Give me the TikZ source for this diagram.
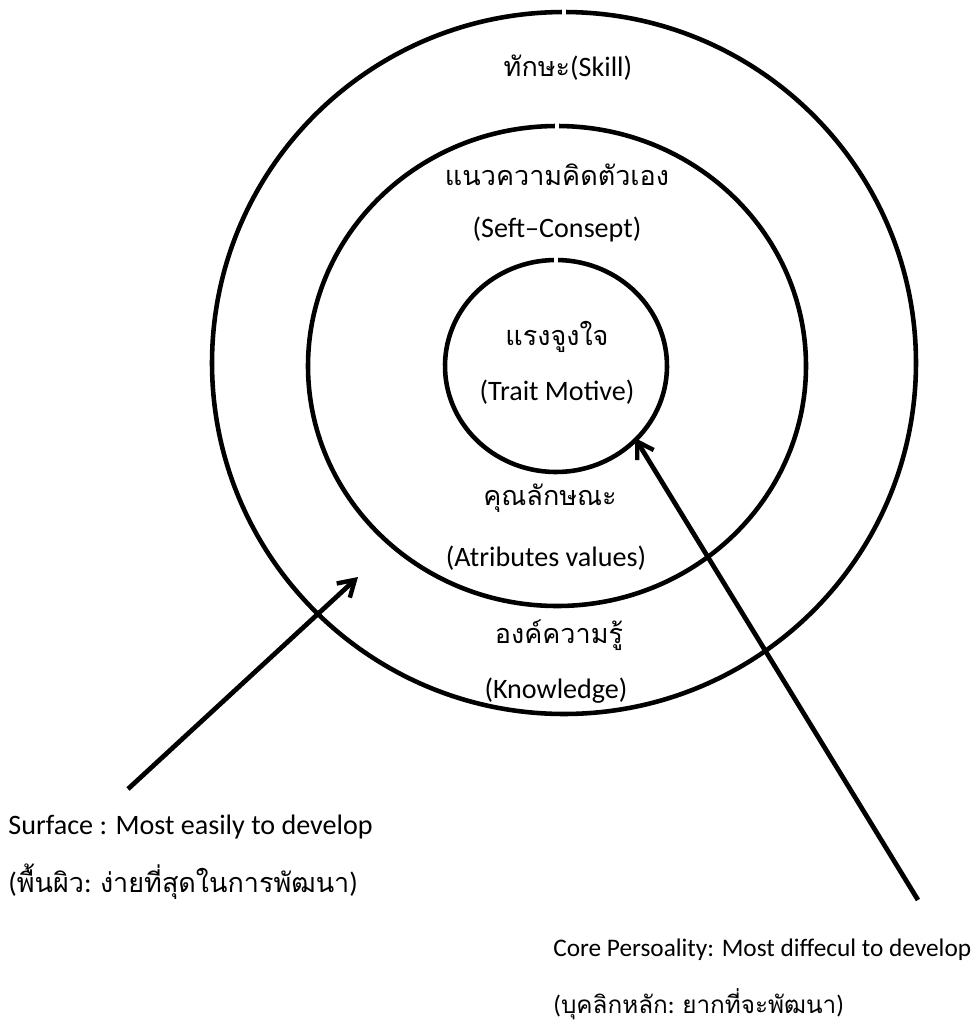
\documentclass[tikz,border=0pt]{standalone}
\usepackage{fontspec}
\setmainfont{Carlito}
\newfontfamily\thaifont[Script=Thai,Scale=0.96]{Loma}
\newcommand\thaitxt[1]{{\thaifont #1}}
\usepackage{tikz}
\usetikzlibrary{arrows.meta,calc}

\begin{document}
\begin{tikzpicture}[x=0.02cm,y=-0.02cm,
    ring/.style={line width=2.6pt},
    pointer/.style={line width=2.7pt,-{Straight Barb[length=9pt,width=11pt,line width=2.5pt]}},
    lbl/.style={inner sep=0pt,anchor=base,font=\fontsize{16}{18}\selectfont},
    caption/.style={lbl,anchor=base west},
    smallcaption/.style={caption,font=\fontsize{14.4}{17}\selectfont}]

\useasboundingbox (0,0) rectangle (980,1025);

% the three rings, each with its small break at the top
\foreach \cx/\cy/\rx/\ry/\gap in {564/363/352/351/0.35, 557/366/249/240/0.5, 556/366/111/106/1.1}
    \draw[ring] ([shift={(270+\gap:{\rx} and {\ry})}]\cx,\cy)
        arc[start angle=270+\gap, end angle=630-\gap, x radius=\rx, y radius=\ry];

% labels inside the rings
\node[lbl] (skillTxt) at (568,76) {\thaitxt{ทักษะ}(Skill)};
\node[lbl] (selfTh) at (557,185) {\thaitxt{แนวความคิดตัวเอง}};
\node[lbl] (selfEn) at (557,237) {(Seft–Consept)};
\node[lbl] (motiveTh) at (557,345) {\thaitxt{แรงจูงใจ}};
\node[lbl] (motiveEn) at (557,400) {(Trait Motive)};
\node[lbl] (traitTh) at (550,505) {\thaitxt{คุณลักษณะ}};
\node[lbl] (traitEn) at (546,566) {(Atributes values)};
\node[lbl] (knowTh) at (559,643) {\thaitxt{องค์ความรู้}};
\node[lbl] (knowEn) at (556,698) {(Knowledge)};

% the two captions
\node[caption] (surfEn) at (8,834) {Surface : Most easily to develop};
\node[caption] (surfTh) at (8,892) {(\thaitxt{พื้นผิว}: \thaitxt{ง่ายที่สุดในการพัฒนา})};
\node[smallcaption] (coreEn) at (553,956) {Core Persoality: Most diffecul to develop};
\node[smallcaption] (coreTh) at (553,1013) {(\thaitxt{บุคลิกหลัก}: \thaitxt{ยากที่จะพัฒนา})};

% arrows
\coordinate (surfTail) at (128,789);
\coordinate (surfTip) at (358,577);
\coordinate (coreTail) at (918,900);
\coordinate (coreTip) at (635,438);
\draw[pointer] (surfTail) -- (surfTip);
\draw[pointer] (coreTail) -- (coreTip);

\end{tikzpicture}
\end{document}
